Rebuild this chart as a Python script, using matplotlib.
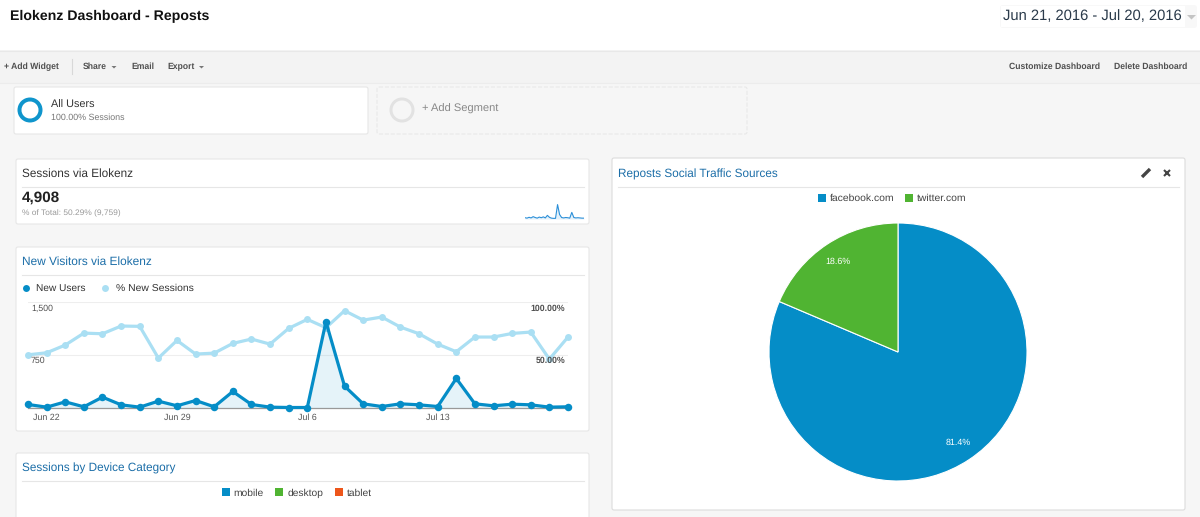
import matplotlib
matplotlib.use('Agg')
import matplotlib.pyplot as plt
from matplotlib.patches import FancyBboxPatch, Rectangle, Wedge, Polygon

plt.rcParams['font.family'] = ['Liberation Sans', 'DejaVu Sans']
plt.rcParams['text.hinting'] = 'no_hinting'

W, H = 1200, 517

# Line chart data, Jun 21 to Jul 20
days = list(range(30))
new_users = [43, 5, 80, 10, 147, 38, 5, 90, 24, 99, 10, 227, 43, 5, 0,
             0, 1216, 303, 52, 14, 52, 38, 14, 412, 52, 24, 47, 38, 5, 10]
pct_new_sessions = [49.8, 51.7, 59, 70.3, 69.7, 77, 76.7, 46.7, 63.4, 50.5,
                    51.4, 60.6, 64.7, 59.9, 74.8, 83.3, 75.4, 91.5, 82.6, 85.5,
                    76, 69.7, 59.9, 52.7, 66.6, 66.6, 70, 71.3, 45.7, 66.6]
tick_days = [1, 8, 15, 22]
tick_labels = ['Jun 22', 'Jun 29', 'Jul 6', 'Jul 13']

# Sparkline in the sessions widget
sessions = [12, 8, 16, 10, 22, 14, 8, 18, 12, 20, 10, 34, 16, 8, 6,
            6, 135, 42, 14, 10, 14, 12, 8, 62, 14, 10, 12, 10, 8, 8]

# Pie data
sources = ['facebook.com', 'twitter.com']
source_share = [81.4, 18.6]

BLUE = '#058dc7'
LIGHT = '#aadff3'
GREEN = '#50b432'
ORANGE = '#ed561b'
LINK = '#1c6ea8'
TEXT = '#333333'


def px_axes(left, top, right, bottom, **kw):
  # axes placed with pixel coordinates measured from the top left
  return fig.add_axes([left / W, 1 - bottom / H, (right - left) / W, (bottom - top) / H], **kw)


def panel(x0, y0, x1, y1, edge='#e6e6e6', ls='-', face='white'):
  bg.add_patch(FancyBboxPatch((x0 + 2, y0 + 2), x1 - x0 - 4, y1 - y0 - 4,
                              boxstyle='round,pad=2,rounding_size=2',
                              fc=face, ec=edge, lw=0.8, ls=ls))


def label(x, y, s, size=6.5, color=TEXT, **kw):
  kw.setdefault('va', 'center')
  bg.text(x, y + 1, s, fontsize=size, color=color, **kw)


fig = plt.figure(figsize=(12, 5.17), dpi=100, facecolor='#f6f6f6')

# Full figure layer for the dashboard around the charts
bg = fig.add_axes([0, 0, 1, 1], zorder=0)
bg.set_xlim(0, W)
bg.set_ylim(H, 0)
bg.axis('off')

bg.add_patch(Rectangle((0, 0), W, 50, fc='white', ec='none'))
bg.add_patch(Rectangle((0, 50), W, 33, fc='#f3f3f3', ec='none'))
bg.plot([0, W], [50.5, 50.5], color='#e8e8e8', lw=0.8)
bg.plot([0, W], [82.5, 82.5], color='#ececec', lw=0.8)

label(10, 15.5, 'Elokenz Dashboard - Reposts', size=10.2, color='#111111', fontweight='bold')
bg.add_patch(FancyBboxPatch((1000, 5), 197, 23, boxstyle='round,pad=0,rounding_size=3',
                            fc='#f8f8f8', ec='none'))
bg.add_patch(Rectangle((1001, 6), 184, 21, fc='white', ec='none'))
label(1003, 15.5, 'Jun 21, 2016 - Jul 20, 2016', size=10.6, color='#2a3a4a')
bg.add_patch(Polygon([[1187, 15], [1196, 15], [1191.5, 19.5]], fc='#c4c4c4', ec='none'))

# Toolbar
for x, s in [(4, '+ Add Widget'), (83, 'Share'), (131, 'Email'), (167, 'Export'),
             (1009, 'Customize Dashboard'), (1114, 'Delete Dashboard')]:
  label(x, 66, s, size=6.25, color='#505050', fontweight='bold')
bg.plot([71.5, 71.5], [59, 74], color='#d8d8d8', lw=0.8)
for x in [111.5, 199]:
  bg.add_patch(Polygon([[x, 66], [x + 5, 66], [x + 2.5, 68.5]], fc='#777777', ec='none'))

# Segments
panel(14, 87, 368, 134)
panel(377, 87, 747, 134, edge='#e8e8e8', ls='--', face='#f6f6f6')
bg.add_patch(Wedge((30, 110), 12.5, 0, 360, width=4, fc='#0f95cc', ec='none'))
bg.add_patch(Wedge((402, 110), 12.5, 0, 360, width=3, fc='#e2e2e2', ec='none'))
label(51, 104, 'All Users', size=7.8, color='#333333')
label(51, 117, '100.00% Sessions', size=6.4, color='#777777')
label(422, 108, '+ Add Segment', size=8, color='#888888')

# Sessions widget
panel(16, 159, 589, 224)
label(22, 173, 'Sessions via Elokenz', size=8.5)
bg.plot([22, 584], [187, 187], color='#e6e6e6', lw=0.8)
label(22, 197, '4,908', size=11, color='#222222', fontweight='bold')
label(22, 212, '% of Total: 50.29% (9,759)', size=6, color='#999999')

# New visitors widget
panel(16, 247, 589, 431)
label(22, 261, 'New Visitors via Elokenz', size=8.55, color=LINK)
bg.plot([22, 584], [275, 275], color='#e6e6e6', lw=0.8)
bg.plot([26], [288], 'o', ms=5, color=BLUE, mec='none')
label(36, 287, 'New Users', size=7.3)
bg.plot([105], [288], 'o', ms=5, color=LIGHT, mec='none')
label(116, 287, '% New Sessions', size=7.5)

# Device widget
panel(16, 453, 589, 530)
label(22, 467, 'Sessions by Device Category', size=8.5, color=LINK)
bg.plot([22, 584], [481, 481], color='#e6e6e6', lw=0.8)
for x, s, c in [(221.7, 'mobile', BLUE), (275.3, 'desktop', GREEN), (335, 'tablet', ORANGE)]:
  bg.add_patch(Rectangle((x, 488), 8, 8, fc=c, ec='none'))
  label(x + 12, 492, s, size=7.4, color='#444444')

# Pie widget
panel(612, 158, 1185, 510, edge='#dcdcdc')
label(618, 173, 'Reposts Social Traffic Sources', size=8.5, color=LINK)
bg.plot([618, 1179], [187, 187], color='#e6e6e6', lw=0.8)
bg.plot([1142, 1150], [177, 169], color='#444444', lw=2.4, solid_capstyle='butt')
bg.plot([1167.3], [173], 'x', ms=5, mew=1.5, color='#444444')
for x, s, c in [(818, sources[0], BLUE), (905, sources[1], GREEN)]:
  bg.add_patch(Rectangle((x, 194), 8, 8, fc=c, ec='none'))
  label(x + 12, 197, s, size=7.5, color='#444444')

# Sparkline
spark = px_axes(525, 203, 584, 219, zorder=2)
spark.axis('off')
spark.fill_between(days, sessions, 0, color='#e4f1fa', lw=0)
spark.plot(days, sessions, color='#2b8fd8', lw=0.8)
spark.set_xlim(0, 29)
spark.set_ylim(0, 150)

# Line chart, both series share the plot area with their own scales
ax = px_axes(28, 301.7, 568, 407.5, zorder=2)
ax.patch.set_alpha(0)
ax.set_xlim(0, 29)
ax.set_ylim(0, 1500)
ax.set_yticks([750, 1500])
ax.set_yticklabels([])
ax.grid(axis='y', color='#eeeeee', lw=0.8)
ax.set_axisbelow(True)
ax.tick_params(axis='both', length=0)
for s in ['top', 'left', 'right']:
  ax.spines[s].set_visible(False)
ax.spines['bottom'].set_color('#999999')
ax.spines['bottom'].set_linewidth(0.9)
ax.set_xticks(tick_days)
ax.set_xticklabels(tick_labels, fontsize=6.4, color='#555555')
ax.tick_params(axis='x', pad=4)

ax2 = ax.twinx()
ax2.set_ylim(0, 100)
ax2.axis('off')
ax2.plot(days, pct_new_sessions, color=LIGHT, lw=2.3, marker='o', ms=5, mec='none', clip_on=False)

ax3 = ax.twinx()
ax3.set_ylim(0, 1500)
ax3.axis('off')
ax3.fill_between(days, new_users, 0, color='#058dc7', alpha=0.1, lw=0)
ax3.plot(days, new_users, color=BLUE, lw=2.3, marker='o', ms=5.4, mec='none', clip_on=False)

bg.set_zorder(1)
ax.set_zorder(2)

# Axis value labels sit over the lines, so they go on the top axes
for x, y, s, ha, weight in [(31, 309, '1,500', 'left', 'normal'), (31, 361, '750', 'left', 'normal'),
                            (565, 309, '100.00%', 'right', 'bold'), (565, 361, '50.00%', 'right', 'bold')]:
  ax3.text(x, y, s, transform=bg.transData, fontsize=6.3, color='#505050', ha=ha, va='center',
           fontweight=weight, clip_on=False)

# Pie
pie_ax = px_axes(769, 223, 1027, 481, zorder=2)
wedges, _, autotexts = pie_ax.pie(source_share, colors=[BLUE, GREEN], startangle=90,
                                  counterclock=False, autopct='%.1f%%', pctdistance=0.84,
                                  wedgeprops={'edgecolor': 'white', 'linewidth': 0.8},
                                  textprops={'color': 'white', 'fontsize': 6.4})
pie_ax.set_xlim(-1, 1)
pie_ax.set_ylim(-1, 1)

fig.savefig('out.png', dpi=100, facecolor=fig.get_facecolor())
